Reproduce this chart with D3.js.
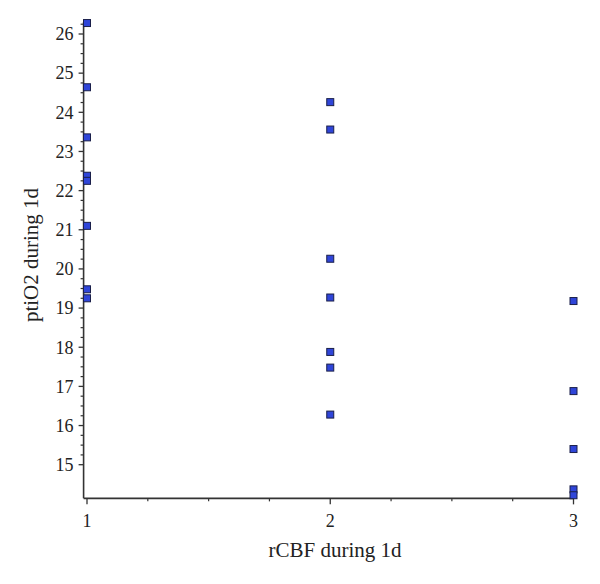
<!DOCTYPE html>
<html><head><meta charset="utf-8">
<script src="https://cdn.jsdelivr.net/npm/d3@7"></script>
<style>body{margin:0;background:#fff}svg{display:block}</style>
</head><body>
<svg id="c" width="600" height="584"></svg>
<script>
const xValues = [1,1,1,1,1,1,1,1, 2,2,2,2,2,2,2, 3,3,3,3,3];
const yValues = [26.28,24.64,23.36,22.38,22.25,21.1,19.48,19.25,
                 24.26,23.56,20.26,19.27,17.88,17.48,16.28,
                 19.18,16.88,15.40,14.37,14.22];
const xTicks = [1,2,3];
const yTicks = [15,16,17,18,19,20,21,22,23,24,25,26];
const xTitle = "rCBF during 1d";
const yTitle = "ptiO2 during 1d";

const svg = d3.select("#c");
const font = "'Liberation Serif', 'DejaVu Serif', serif";
const x = d3.scaleLinear().domain([1,3]).range([87,573.5]);
const y = d3.scaleLinear().domain([15,26]).range([464.7,34]);
const yMin = 14.14, yMax = 26.3, xMin = 0.986;

const ax = "#333";
// y axis
const gy = svg.append("g");
gy.append("line").attr("x1",x(xMin)).attr("x2",x(xMin)).attr("y1",y(yMin)).attr("y2",y(yMax))
  .attr("stroke",ax).attr("stroke-width",1.6);
const yMinor = d3.range(15,26.3,0.25).filter(v=>Math.abs(v-Math.round(v))>1e-6);
gy.selectAll(".ymi").data(yMinor).join("line")
  .attr("x1",x(xMin)-3).attr("x2",x(xMin)).attr("y1",d=>y(d)).attr("y2",d=>y(d))
  .attr("stroke",ax).attr("stroke-width",1.2);
gy.selectAll(".yma").data(yTicks).join("line")
  .attr("x1",x(xMin)-5).attr("x2",x(xMin)).attr("y1",d=>y(d)).attr("y2",d=>y(d))
  .attr("stroke",ax).attr("stroke-width",1.3);
gy.selectAll("text").data(yTicks).join("text")
  .attr("x",x(xMin)-10).attr("y",d=>y(d)).attr("dy","0.35em").attr("text-anchor","end")
  .attr("font-family",font).attr("font-size",18).attr("fill","#222").text(d=>d);

// x axis
const gx = svg.append("g");
gx.append("line").attr("x1",x(xMin)).attr("x2",x(3)).attr("y1",y(yMin)).attr("y2",y(yMin))
  .attr("stroke",ax).attr("stroke-width",1.6);
const xMinor = [1.25,1.5,1.75,2.25,2.5,2.75];
gx.selectAll(".xmi").data(xMinor).join("line")
  .attr("x1",d=>x(d)).attr("x2",d=>x(d)).attr("y1",y(yMin)).attr("y2",y(yMin)+3)
  .attr("stroke",ax).attr("stroke-width",1.2);
gx.selectAll(".xma").data(xTicks).join("line")
  .attr("x1",d=>x(d)).attr("x2",d=>x(d)).attr("y1",y(yMin)).attr("y2",y(yMin)+6)
  .attr("stroke",ax).attr("stroke-width",1.3);
gx.selectAll("text").data(xTicks).join("text")
  .attr("x",d=>x(d)).attr("y",y(yMin)+29).attr("text-anchor","middle")
  .attr("font-family",font).attr("font-size",18).attr("fill","#222").text(d=>d);

svg.append("text").attr("x",335).attr("y",557).attr("text-anchor","middle")
  .attr("font-family",font).attr("font-size",21).attr("fill","#222").text(xTitle);
svg.append("text").attr("transform",`translate(38,255) rotate(-90)`).attr("text-anchor","middle")
  .attr("font-family",font).attr("font-size",21).attr("fill","#222").text(yTitle);

// points
svg.append("g").selectAll("rect").data(xValues.map((v,i)=>[v,yValues[i]])).join("rect")
  .attr("x",d=>x(d[0])-3.5).attr("y",d=>y(d[1])-3.5).attr("width",7).attr("height",7)
  .attr("fill","#2f45d8").attr("stroke","#1a1f4a").attr("stroke-width",1);
</script>
</body></html>
